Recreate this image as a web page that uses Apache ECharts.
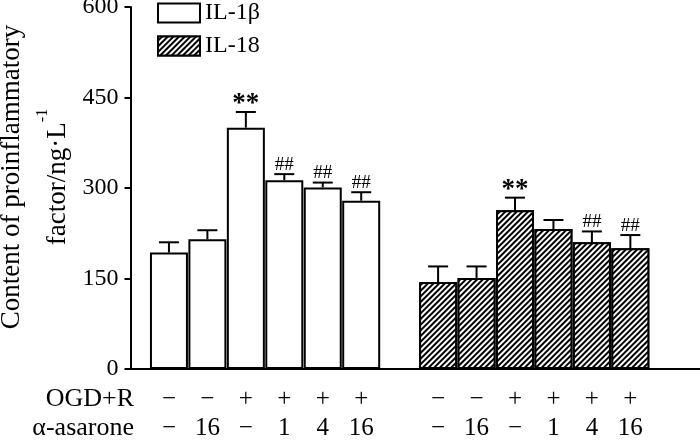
<!DOCTYPE html>
<html>
<head>
<meta charset="utf-8">
<script src="https://cdn.jsdelivr.net/npm/echarts@6/dist/echarts.min.js"></script>
<style>
  html, body { margin: 0; padding: 0; background: #fff; }
  #chart { width: 700px; height: 440px; }
</style>
</head>
<body>
<div id="chart"></div>
<script>
// treatment rows under each bar
var ogdRow = ['−', '−', '+', '+', '+', '+'];
var asaroneRow = ['−', '16', '−', '1', '4', '16'];
var yTicks = [0, 150, 300, 450, 600];

// IL-1β
var il1b = [193, 215, 400, 313, 301, 279];
var il1bErr = [17, 15, 26, 10, 8, 14];
var il1bMark = ['', '', '**', '##', '##', '##'];

// IL-18
var il18 = [144, 151, 263, 232, 210, 200];
var il18Err = [26, 19, 21, 15, 18, 22];
var il18Mark = ['', '', '**', '', '##', '##'];

var FONT = '"Liberation Serif", "Times New Roman", serif';

// slots on the category axis: pad, 6 bars, pad, 6 bars, pads
var slots = [], slotLabel = [];
var g1Start = 1, g2Start = 8, slotCount = 16;
for (var i = 0; i < slotCount; i++) {
  slots.push('s' + i);
  slotLabel.push('');
}
for (var k = 0; k < ogdRow.length; k++) {
  slotLabel[g1Start + k] = ogdRow[k] + '\n' + asaroneRow[k];
  slotLabel[g2Start + k] = ogdRow[k] + '\n' + asaroneRow[k];
}

function barData(values, start) {
  var out = [];
  for (var i = 0; i < slotCount; i++) out.push('-');
  values.forEach(function (v, k) { out[start + k] = v; });
  return out;
}

function errData(values, errs, start) {
  return values.map(function (v, k) {
    return [start + k, v, errs[k]];
  });
}

function errRender(marks) {
  return function (params, api) {
    var idx = api.value(0);
    var base = api.coord([idx, api.value(1)]);
    var top = api.coord([idx, api.value(1) + api.value(2)]);
    var st = { stroke: '#000', lineWidth: 2 };
    var m = marks[params.dataIndex];
    return {
      type: 'group',
      children: [
        { type: 'line', shape: { x1: base[0], y1: base[1], x2: base[0], y2: top[1] }, style: st },
        { type: 'line', shape: { x1: base[0] - 10, y1: top[1], x2: base[0] + 10, y2: top[1] }, style: st },
        {
          type: 'text',
          x: base[0],
          y: top[1] + (m === '**' ? 6 : 0),
          style: {
            text: m,
            textAlign: 'center',
            textVerticalAlign: 'bottom',
            fill: '#000',
            font: m === '**' ? 'bold 27px ' + FONT : '19px ' + FONT
          }
        }
      ]
    };
  };
}

var hatch = {
  symbol: 'rect',
  symbolSize: 1,
  color: '#fff',
  backgroundColor: 'transparent',
  dashArrayX: [1, 0],
  dashArrayY: [1.1, 1.9],
  rotation: -Math.PI / 4
};

var chart = echarts.init(document.getElementById('chart'));
chart.setOption({
  animation: false,
  backgroundColor: '#fff',
  grid: { left: 130.5, top: 7, width: 576.75, height: 362, outerBoundsMode: 'none' },
  legend: {
    orient: 'vertical',
    left: 157,
    top: 1,
    padding: 0,
    itemWidth: 42,
    itemHeight: 19,
    itemGap: 9,
    icon: 'rect',
    data: ['IL-1β', 'IL-18'],
    textStyle: { fontFamily: FONT, fontSize: 24, color: '#000', padding: [0, 0, 0, 0] }
  },
  xAxis: {
    type: 'category',
    data: slots,
    boundaryGap: false,
    axisLine: { lineStyle: { color: '#000', width: 2 } },
    axisTick: { show: false },
    axisLabel: {
      interval: 0,
      margin: 16,
      color: '#000',
      fontFamily: FONT,
      fontSize: 25,
      lineHeight: 29,
      formatter: function (v, i) { return slotLabel[i]; }
    },
    splitLine: { show: false }
  },
  yAxis: {
    type: 'value',
    min: yTicks[0],
    max: yTicks[yTicks.length - 1],
    interval: 150,
    axisLine: { show: true, lineStyle: { color: '#000', width: 2 } },
    axisTick: { show: true, length: 6, lineStyle: { color: '#000', width: 2 } },
    axisLabel: { color: '#000', fontFamily: FONT, fontSize: 24, margin: 12 },
    splitLine: { show: false }
  },
  graphic: [
    {
      type: 'text',
      x: 35,
      y: 177,
      rotation: Math.PI / 2,
      style: {
        text: '{a|Content of proinflammatory}\n{a|factor/ng·L}{s|-1}',
        textAlign: 'center',
        textVerticalAlign: 'middle',
        fill: '#000',
        rich: {
          a: { fontFamily: FONT, fontSize: 27, lineHeight: 46, fill: '#000' },
          s: { fontFamily: FONT, fontSize: 16, lineHeight: 16, verticalAlign: 'top', fill: '#000' }
        }
      }
    },
    {
      type: 'text', x: 134, y: 399,
      style: { text: 'OGD+R', textAlign: 'right', textVerticalAlign: 'middle', font: '26px ' + FONT, fill: '#000' }
    },
    {
      type: 'text', x: 134, y: 428,
      style: { text: 'α-asarone', textAlign: 'right', textVerticalAlign: 'middle', font: '26px ' + FONT, fill: '#000' }
    }
  ],
  series: [
    {
      name: 'IL-1β',
      type: 'bar',
      barWidth: 38,
      barGap: '-100%',
      data: barData(il1b, g1Start),
      itemStyle: { color: '#fff', borderColor: '#000', borderWidth: 2 }
    },
    {
      name: 'IL-18',
      type: 'bar',
      barWidth: 38,
      barGap: '-100%',
      data: barData(il18, g2Start),
      itemStyle: { color: '#000', borderColor: '#000', borderWidth: 2, decal: hatch }
    },
    {
      type: 'custom',
      z: 5,
      renderItem: errRender(il1bMark),
      data: errData(il1b, il1bErr, g1Start)
    },
    {
      type: 'custom',
      z: 5,
      renderItem: errRender(il18Mark),
      data: errData(il18, il18Err, g2Start)
    }
  ]
});
</script>
</body>
</html>
